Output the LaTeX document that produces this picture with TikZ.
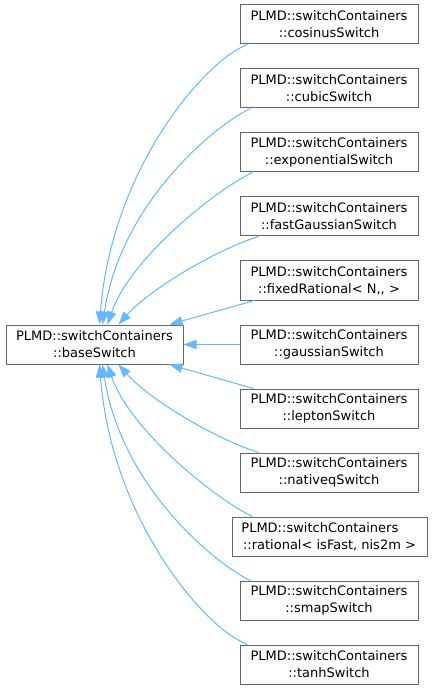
\documentclass[tikz,border=0pt]{standalone}
\usepackage{fontspec}
\setmainfont{DejaVu Sans}
\usetikzlibrary{calc,arrows.meta}
\definecolor{edgeblue}{HTML}{63B8FF}
\definecolor{boxgray}{HTML}{666666}
\begin{document}
\begin{tikzpicture}[x=0.75pt,y=-0.75pt,
  cls/.style={draw=boxgray,line width=0.75pt,fill=white,minimum width=133.5pt,minimum height=29.25pt,
    inner sep=0pt,align=center,font=\fontsize{9.75pt}{12.75pt}\selectfont},
  inh/.style={draw=edgeblue,line width=0.75pt,-{Triangle[length=9.75pt,width=7pt]}}]
\useasboundingbox (0,0) rectangle (432,691);
\node[cls,minimum width=132.75pt] (base) at (94.5,344.5) {PLMD::switchContainers\\::baseSwitch};
\node[cls] (cos) at (329,24.5) {PLMD::switchContainers\\::cosinusSwitch};
\node[cls] (cub) at (329,88.5) {PLMD::switchContainers\\::cubicSwitch};
\node[cls] (exp) at (329,152.5) {PLMD::switchContainers\\::exponentialSwitch};
\node[cls] (fg) at (329,216.5) {PLMD::switchContainers\\::fastGaussianSwitch};
\node[cls] (fr) at (329,280.5) {PLMD::switchContainers\\::fixedRational< N,{},{} >};
\node[cls] (gau) at (329,344.5) {PLMD::switchContainers\\::gaussianSwitch};
\node[cls] (lep) at (329,408.5) {PLMD::switchContainers\\::leptonSwitch};
\node[cls] (nat) at (329,472.5) {PLMD::switchContainers\\::nativeqSwitch};
\node[cls,minimum width=146.25pt] (rat) at (329.5,536.5) {\makebox[13.55em][l]{PLMD::switchContainers}\\::rational< isFast, nis2m >};
\node[cls] (smap) at (329,600.5) {PLMD::switchContainers\\::smapSwitch};
\node[cls] (tanh) at (329,664.5) {PLMD::switchContainers\\::tanhSwitch};
% upper edges
\draw[inh] ($(cos.south west)+(8,0)$) .. controls +(-43,16) and +(12,-155) .. ($(base.north west)+(94,0)$);
\draw[inh] ($(cub.south west)+(11,0)$) .. controls +(-31,14) and +(19,-125) .. ($(base.north west)+(97,0)$);
\draw[inh] ($(exp.south west)+(13,0)$) .. controls +(-38,18) and +(22,-65) .. ($(base.north west)+(102,0)$);
\draw[inh] ($(fg.south west)+(19,0)$) .. controls +(-44,14) and +(31,-35) .. ($(base.north west)+(113,0)$);
\draw[inh] ($(fr.south west)+(15,0)$) -- ($(base.north west)+(164,0)$);
\draw[inh] (gau.west) -- (base.east);
% lower edges
\draw[inh] ($(lep.north west)+(14,0)$) -- ($(base.south west)+(164,0)$);
\draw[inh] ($(nat.north west)+(19,0)$) .. controls +(-44,-14) and +(31,35) .. ($(base.south west)+(113,0)$);
\draw[inh] ($(rat.north west)+(21,0)$) .. controls +(-38,-18) and +(22,65) .. ($(base.south west)+(102,0)$);
\draw[inh] ($(smap.north west)+(11,0)$) .. controls +(-31,-14) and +(19,125) .. ($(base.south west)+(97,0)$);
\draw[inh] ($(tanh.north west)+(8,0)$) .. controls +(-43,-16) and +(12,155) .. ($(base.south west)+(94,0)$);
\end{tikzpicture}
\end{document}
